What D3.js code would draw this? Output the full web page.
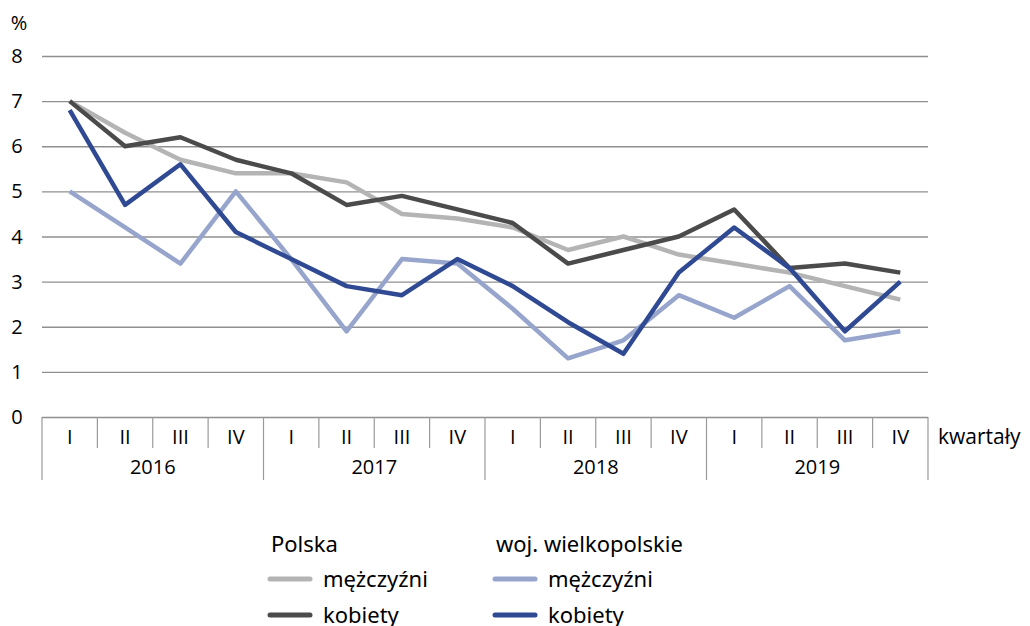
<!DOCTYPE html>
<html>
<head>
<meta charset="utf-8">
<script src="https://cdn.jsdelivr.net/npm/d3@7"></script>
<style>
  body { margin: 0; background: #fff; }
  svg text { font-family: "Open Sans", sans-serif; fill: #000; }
  .legend text { font-family: "Noto Sans", sans-serif; }
</style>
</head>
<body>
<div id="chart"></div>
<script>
// data
const years = ["2016", "2017", "2018", "2019"];
const quarters = ["I", "II", "III", "IV"];
const yTicks = [0, 1, 2, 3, 4, 5, 6, 7, 8];

const polskaMezczyzni = [7.0, 6.3, 5.7, 5.4, 5.4, 5.2, 4.5, 4.4, 4.2, 3.7, 4.0, 3.6, 3.4, 3.2, 2.9, 2.6];
const polskaKobiety   = [7.0, 6.0, 6.2, 5.7, 5.4, 4.7, 4.9, 4.6, 4.3, 3.4, 3.7, 4.0, 4.6, 3.3, 3.4, 3.2];
const wielkMezczyzni  = [5.0, 4.2, 3.4, 5.0, 3.5, 1.9, 3.5, 3.4, 2.4, 1.3, 1.7, 2.7, 2.2, 2.9, 1.7, 1.9];
const wielkKobiety    = [6.8, 4.7, 5.6, 4.1, 3.5, 2.9, 2.7, 3.5, 2.9, 2.1, 1.4, 3.2, 4.2, 3.3, 1.9, 3.0];

const series = [
    {name: "mężczyźni", group: "Polska", values: polskaMezczyzni, color: "#b4b4b4"},
    {name: "kobiety", group: "Polska", values: polskaKobiety, color: "#4b4b4b"},
    {name: "mężczyźni", group: "woj. wielkopolskie", values: wielkMezczyzni, color: "#97a5cc"},
    {name: "kobiety", group: "woj. wielkopolskie", values: wielkKobiety, color: "#2f4992"}
];

const keys = [];
years.forEach(y => quarters.forEach(q => keys.push(y + "-" + q)));

const width = 1030, height = 626;
const margin = {top: 56, right: 102, bottom: 209, left: 42};

const svg = d3.select("#chart").append("svg")
    .attr("width", width)
    .attr("height", height);

const xScale = d3.scaleBand()
    .domain(keys)
    .range([margin.left, width - margin.right]);

const yScale = d3.scaleLinear()
    .domain([0, 8])
    .range([height - margin.bottom, margin.top]);

// gridlines
svg.append("g")
    .attr("transform", `translate(${margin.left},0)`)
    .call(d3.axisLeft(yScale).tickValues(yTicks).tickSize(-(width - margin.left - margin.right)).tickFormat(""))
    .call(g => g.select(".domain").remove())
    .call(g => g.selectAll("line").attr("stroke", "#8f8f8f").attr("stroke-width", 1.3));

// y labels
svg.append("g")
    .selectAll("text")
    .data(yTicks)
    .join("text")
    .attr("x", 17)
    .attr("y", d => yScale(d))
    .attr("dy", "0.35em")
    .attr("text-anchor", "middle")
    .attr("font-size", 20)
    .text(d => d);

svg.append("text")
    .attr("x", 19)
    .attr("y", 23)
    .attr("dy", "0.35em")
    .attr("text-anchor", "middle")
    .attr("font-size", 20)
    .text("%");

// x axis: quarter and year separators
const y0 = yScale(0);
const bw = xScale.bandwidth();
const sepColor = "#9a9a9a";

svg.append("g")
    .selectAll("line")
    .data(keys.filter((k, i) => i % 4 !== 0))
    .join("line")
    .attr("x1", d => xScale(d)).attr("x2", d => xScale(d))
    .attr("y1", y0).attr("y2", y0 + 31)
    .attr("stroke", sepColor).attr("stroke-width", 1.2);

const yearBounds = years.map(y => xScale(y + "-I")).concat([xScale(years[years.length - 1] + "-IV") + bw]);
svg.append("g")
    .selectAll("line")
    .data(yearBounds)
    .join("line")
    .attr("x1", d => d).attr("x2", d => d)
    .attr("y1", y0).attr("y2", y0 + 63)
    .attr("stroke", sepColor).attr("stroke-width", 1.2);

svg.append("g")
    .selectAll("text")
    .data(keys)
    .join("text")
    .attr("x", d => xScale(d) + bw / 2)
    .attr("y", y0 + 20)
    .attr("dy", "0.35em")
    .attr("text-anchor", "middle")
    .attr("font-size", 20)
    .text(d => d.split("-")[1]);

svg.append("g")
    .selectAll("text")
    .data(years)
    .join("text")
    .attr("x", d => xScale(d + "-I") + bw * 2)
    .attr("y", y0 + 50)
    .attr("dy", "0.35em")
    .attr("text-anchor", "middle")
    .attr("font-size", 20)
    .text(d => d);

svg.append("text")
    .attr("x", width - margin.right + 10)
    .attr("y", y0 + 20)
    .attr("dy", "0.35em")
    .attr("font-size", 21)
    .text("kwartały");

// lines
const line = d3.line()
    .x((d, i) => xScale(keys[i]) + bw / 2)
    .y(d => yScale(d));

svg.append("g")
    .selectAll("path")
    .data(series)
    .join("path")
    .attr("d", d => line(d.values))
    .attr("fill", "none")
    .attr("stroke", d => d.color)
    .attr("stroke-width", 4.5)
    .attr("stroke-linejoin", "round");

// legend
const legend = svg.append("g").attr("class", "legend");
const legendCols = [{group: "Polska", x: 268}, {group: "woj. wielkopolskie", x: 493}];

legendCols.forEach(c => {
    legend.append("text")
        .attr("x", c.x + 3)
        .attr("y", 544)
        .attr("dy", "0.35em")
        .attr("font-size", 22)
        .text(c.group);
    series.filter(s => s.group === c.group).forEach((s, i) => {
        const yy = 579 + i * 36;
        legend.append("line")
            .attr("x1", c.x + 2).attr("x2", c.x + 42)
            .attr("y1", yy).attr("y2", yy)
            .attr("stroke", s.color)
            .attr("stroke-width", 5)
            .attr("stroke-linecap", "round");
        legend.append("text")
            .attr("x", c.x + 55)
            .attr("y", yy)
            .attr("dy", "0.35em")
            .attr("font-size", 22)
            .text(s.name);
    });
});
</script>
</body>
</html>
